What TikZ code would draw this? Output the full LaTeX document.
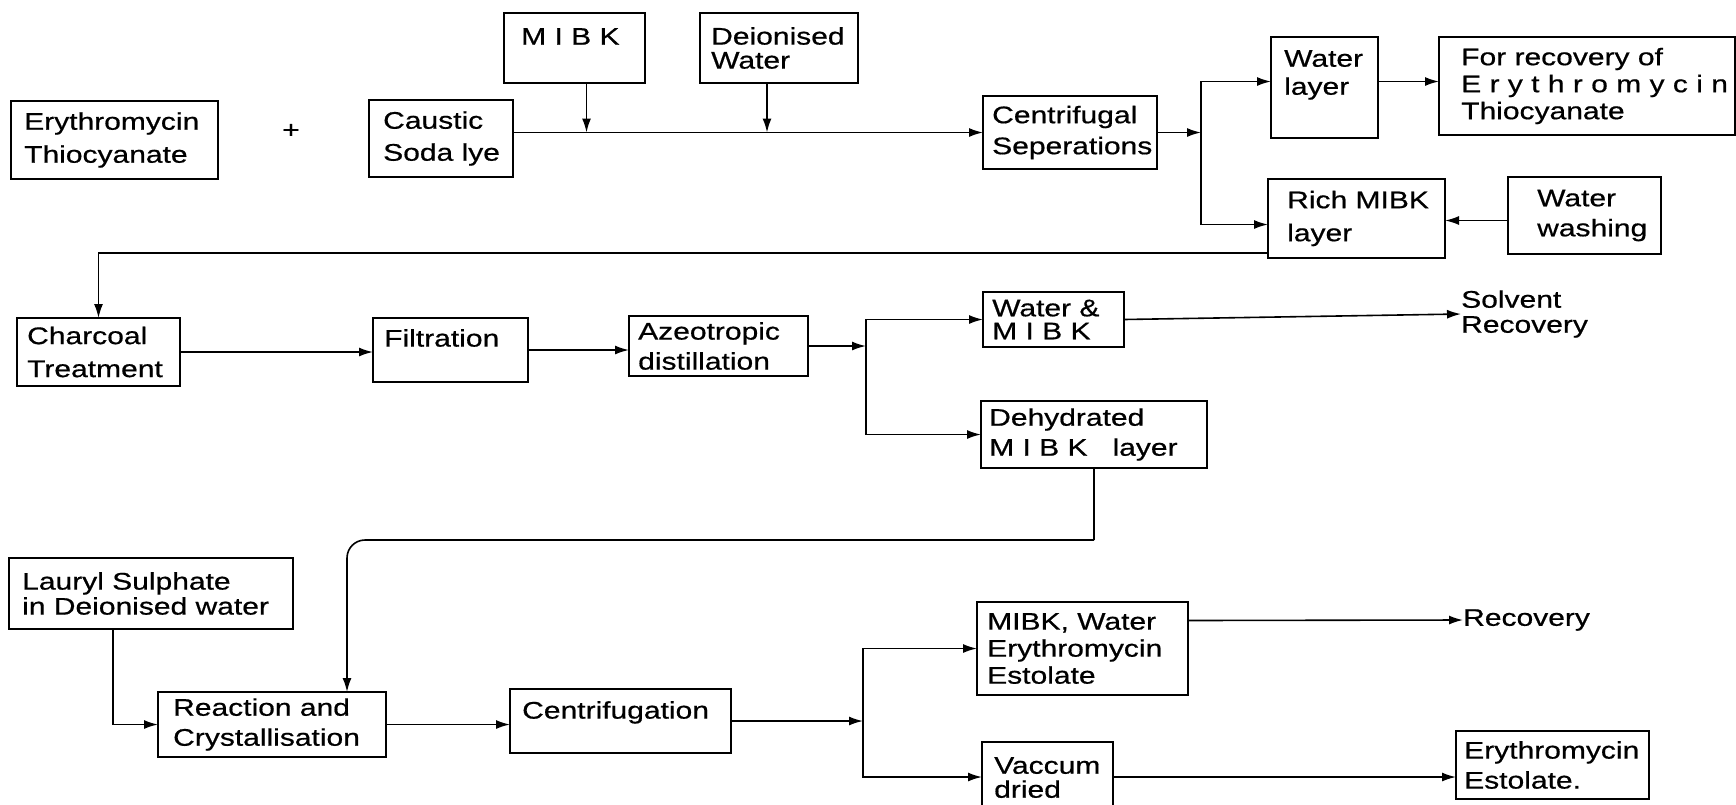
\documentclass[tikz,border=0pt]{standalone}
\usepackage{fontspec}
\setmainfont{Liberation Sans}[FakeStretch=1.25,FakeBold=0.6]
\usetikzlibrary{arrows.meta,calc}
\newcommand\lsz[1]{\fontsize{24pt}{#1pt}\selectfont}
\begin{document}
\begin{tikzpicture}[x=1pt,y=-1pt,
  box/.style={draw, line width=1.8pt, anchor=north west, inner sep=0pt, outer sep=0pt},
  txt/.style={anchor=west, align=left, inner sep=0pt, font=\lsz{30}},
  ttop/.style={anchor=north west, align=left, inner sep=0pt, font=\lsz{30}},
  conn/.style={line width=1.6pt},
  arr/.style={conn, -{Latex[length=14pt,width=9pt]}}]
\useasboundingbox (0,0) rectangle (1736,804);
\fill[white] (0,0) rectangle (1736,804);
\clip (0,0) rectangle (1736,804);

% boxes
\node[box, minimum width=207pt, minimum height=78pt] (et) at (11,101) {};
\node[box, minimum width=144pt, minimum height=77pt] (caus) at (369,100) {};
\node[box, minimum width=141pt, minimum height=70pt] (mibk) at (504,13) {};
\node[box, minimum width=158pt, minimum height=70pt] (dw) at (700,13) {};
\node[box, minimum width=174pt, minimum height=73pt] (cen) at (983,96) {};
\node[box, minimum width=107pt, minimum height=101pt] (wl) at (1271,37) {};
\node[box, minimum width=296pt, minimum height=98pt] (rec) at (1439,37) {};
\node[box, minimum width=177pt, minimum height=79pt] (rich) at (1268,179) {};
\node[box, minimum width=153pt, minimum height=77pt] (ww) at (1508,177) {};
\node[box, minimum width=163pt, minimum height=68pt] (char) at (17,318) {};
\node[box, minimum width=155pt, minimum height=64pt] (filt) at (373,318) {};
\node[box, minimum width=179pt, minimum height=60pt] (azeo) at (629,316) {};
\node[box, minimum width=141pt, minimum height=55pt] (wm) at (983,292) {};
\node[box, minimum width=226pt, minimum height=67pt] (deh) at (981,401) {};
\node[box, minimum width=284pt, minimum height=71pt] (laur) at (9,558) {};
\node[box, minimum width=228pt, minimum height=65pt] (reac) at (158,692) {};
\node[box, minimum width=221pt, minimum height=64pt] (cfg) at (510,689) {};
\node[box, minimum width=211pt, minimum height=93pt] (mw) at (977,602) {};
\node[box, minimum width=131pt, minimum height=70pt] (vd) at (982,742) {};
\node[box, minimum width=193pt, minimum height=68pt] (ee) at (1456,731) {};

% texts
\node[txt, font=\lsz{33}] (et-t) at ([xshift=13pt]et.west) {Erythromycin\\Thiocyanate};
\node[txt] (plus) at (282,131) {+};
\node[txt, font=\lsz{32}] (caus-t) at ([xshift=14pt]caus.west) {Caustic\\Soda lye};
\node[ttop] (mibk-t) at ([shift={(17pt,-15pt)}]mibk.north west) {M I B K};
\node[txt, font=\lsz{24}] (dw-t) at ([xshift=11pt]dw.west) {Deionised\\Water};
\node[txt, font=\lsz{31}] (cen-t) at ([xshift=9pt]cen.west) {Centrifugal\\Seperations};
\node[ttop, font=\lsz{28}] (wl-t) at ([shift={(13pt,-13pt)}]wl.north west) {Water\\layer};
\node[txt, font=\lsz{27}] (rec-t) at ([xshift=22pt]rec.west) {For recovery of\\E r y t h r o m y c i n\\Thiocyanate};
\node[txt, font=\lsz{33}] (rich-t) at ([xshift=19pt]rich.west) {Rich MIBK\\layer};
\node[txt, font=\lsz{30}] (ww-t) at ([xshift=29pt]ww.west) {Water\\washing};
\node[txt, font=\lsz{33}] (char-t) at ([xshift=10pt]char.west) {Charcoal\\Treatment};
\node[ttop] (filt-t) at ([shift={(11pt,-11pt)}]filt.north west) {Filtration};
\node[txt, font=\lsz{30}] (azeo-t) at ([xshift=9pt]azeo.west) {Azeotropic\\distillation};
\node[txt, font=\lsz{23}] (wm-t) at ([xshift=9pt]wm.west) {Water \&\\M I B K};
\node[txt, font=\lsz{25}] (sr) at (1461,314) {Solvent\\Recovery};
\node[txt, font=\lsz{30}] (deh-t) at ([xshift=8pt]deh.west) {Dehydrated\\M I B K \ \ layer};
\node[txt, font=\lsz{25}] (laur-t) at ([xshift=13pt]laur.west) {Lauryl Sulphate\\in Deionised water};
\node[txt, font=\lsz{30}] (reac-t) at ([xshift=15pt]reac.west) {Reaction and\\Crystallisation};
\node[ttop] (cfg-t) at ([shift={(12pt,-12pt)}]cfg.north west) {Centrifugation};
\node[txt, font=\lsz{27}] (mw-t) at ([xshift=10pt]mw.west) {MIBK, Water\\Erythromycin\\Estolate};
\node[ttop, font=\lsz{24}] (vd-t) at ([shift={(12pt,-15pt)}]vd.north west) {Vaccum\\dried};
\node[txt, font=\lsz{30}] (ee-t) at ([xshift=8pt]ee.west) {Erythromycin\\Estolate.};
\node[txt] (rcv) at (1463,620) {Recovery};

% helper coordinates
\coordinate (m1) at ([xshift=12pt]mibk.south);
\coordinate (d1) at ([xshift=-12pt]dw.south);
\coordinate (b1) at (cen.west -| 1201,0);
\coordinate (wl1) at ([yshift=6pt]wl.west);
\coordinate (wl2) at ([yshift=6pt]wl.east);
\coordinate (ri1) at ([yshift=-6pt]rich.west);
\coordinate (ww1) at ([yshift=-5pt]ww.west);
\coordinate (ri2) at ([yshift=5pt]rich.south west);
\coordinate (b2) at (azeo.east -| 866,0);
\coordinate (m2) at (deh.south |- 0,540);
\coordinate (rt) at ([xshift=75pt]reac.north);
\coordinate (lb) at ([xshift=-38pt]laur.south);
\coordinate (b3) at (cfg.east -| 863,0);
\coordinate (mw1) at ([yshift=28pt]mw.east);

% connectors
\draw[arr] (caus.east |- cen.west) -- (cen.west);
\draw[arr] (m1) -- (m1 |- cen.west);
\draw[arr] (d1) -- (d1 |- cen.west);
\draw[arr] (cen.east) -- (b1);
\draw[arr] (b1) |- (wl1);
\draw[arr] (b1) |- (ri1);
\draw[arr] (wl2) -- (wl2 -| rec.west);
\draw[arr] (ww1) -- (ww1 -| rich.east);
\draw[arr] (ri2) -| (char.north);
\draw[arr] (char.east) -- (char.east -| filt.west);
\draw[arr] (filt.east) -- (filt.east -| azeo.west);
\draw[arr] (azeo.east) -- (b2);
\draw[arr] (b2) |- (wm.west);
\draw[arr] (b2) |- (deh.west);
\draw[arr] (wm.east) -- (sr.west);
\draw[conn] (deh.south) -- (m2);
\draw[arr, rounded corners=18pt] (m2) -| (rt);
\draw[arr] (lb) |- (reac.west);
\draw[arr] (reac.east) -- (reac.east -| cfg.west);
\draw[arr] (cfg.east) -- (b3);
\draw[arr] (b3) |- (mw.west);
\draw[arr] (b3) |- (vd.west);
\draw[arr] (mw1) -- (rcv.west);
\draw[arr] (vd.east) -- (vd.east -| ee.west);
\end{tikzpicture}
\end{document}
